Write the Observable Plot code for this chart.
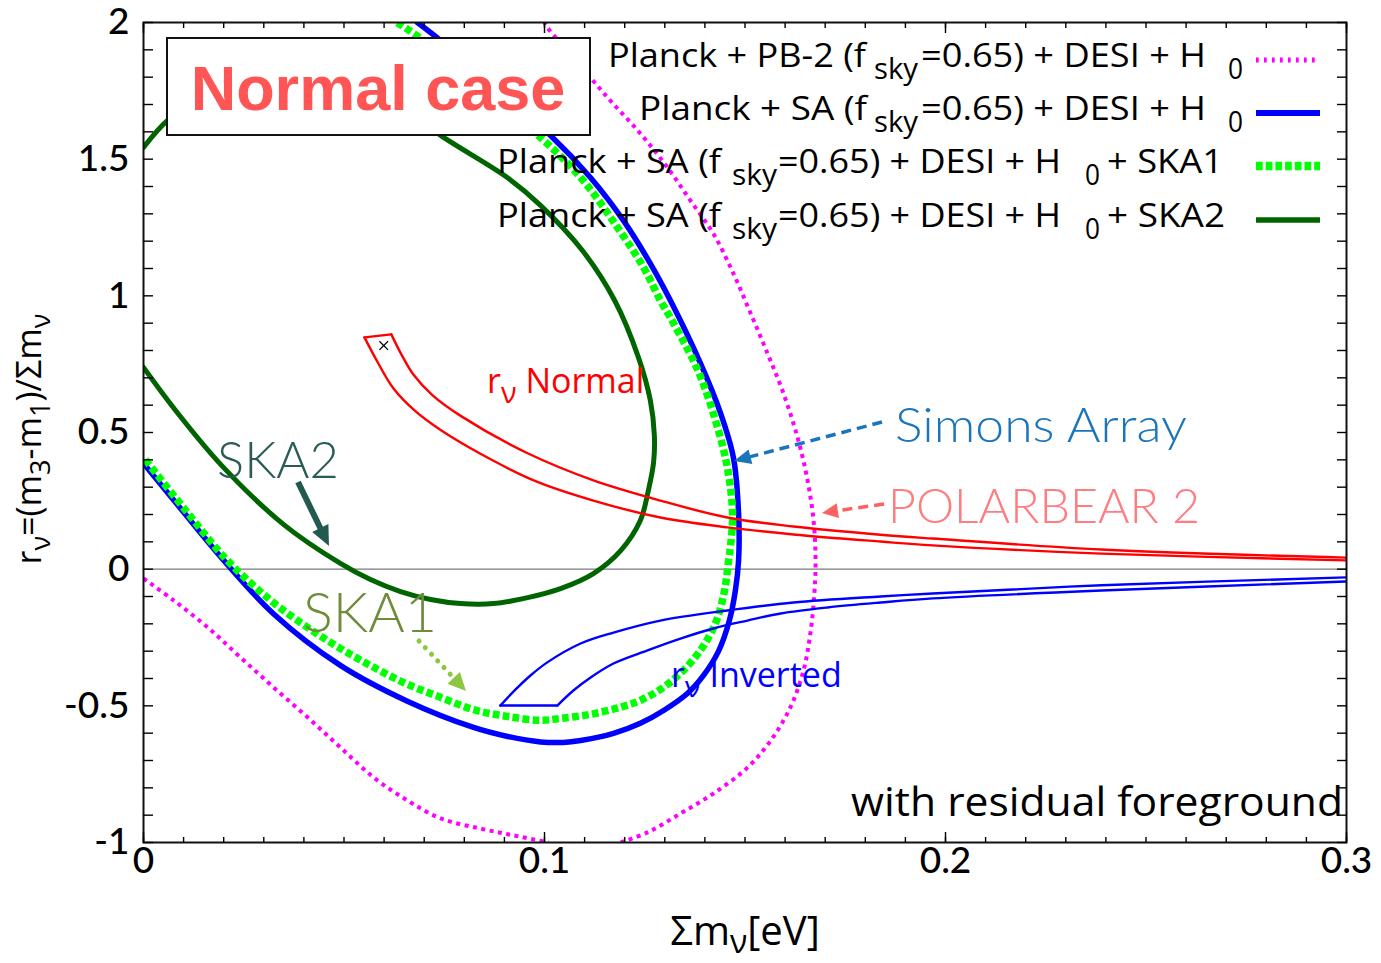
<!DOCTYPE html>
<html><head><meta charset="utf-8">
<script src="https://cdn.jsdelivr.net/npm/d3@7"></script>
<script src="https://cdn.jsdelivr.net/npm/@observablehq/plot@0.6"></script>
<style>
html,body{margin:0;padding:0;background:#fff;}
svg text{white-space:pre;}
</style>
</head><body><div id="chart"></div>
<script>
// ---------- axis ticks ----------
const X_MAJOR = [0, 0.1, 0.2, 0.3];
const X_TICK_LABELS = ["0", "0.1", "0.2", "0.3"];
const X_MINOR = d3.range(0, 31).map(i => i / 100);
const Y_MAJOR = [-1, -0.5, 0, 0.5, 1, 1.5, 2];
const Y_TICK_LABELS = ["-1", "-0.5", "0", "0.5", "1", "1.5", "2"];
const Y_MINOR = d3.range(-10, 21).map(i => i / 10);

// ---------- Planck + PB-2 (magenta dotted), two visible pieces ----------
const PB2_LOW_X = [0.0, 0.0075, 0.016, 0.0242, 0.0324, 0.0409, 0.0491, 0.0574, 0.0658, 0.0741, 0.084, 0.0923, 0.101];
const PB2_LOW_Y = [-0.034, -0.114, -0.213, -0.323, -0.432, -0.542, -0.652, -0.762, -0.846, -0.912, -0.949, -0.974, -1.0];
const PB2_UP_X = [0.119, 0.1257, 0.1339, 0.1421, 0.1506, 0.1564, 0.1613, 0.1646, 0.1663, 0.1673, 0.1676, 0.1671, 0.1656, 0.1631, 0.1596, 0.1556, 0.1514, 0.1471, 0.1421, 0.1364, 0.1307, 0.1239, 0.1157, 0.1072, 0.1007, 0.1];
const PB2_UP_Y = [-1.0, -0.963, -0.894, -0.821, -0.726, -0.627, -0.506, -0.37, -0.235, -0.089, 0.032, 0.178, 0.325, 0.482, 0.643, 0.79, 0.936, 1.082, 1.228, 1.348, 1.469, 1.594, 1.726, 1.872, 1.982, 2.0];

// ---------- Planck + SA (blue thick) ----------
const SA_X = [0.0683, 0.0741, 0.0878, 0.1015, 0.1115, 0.1197, 0.1264, 0.1314, 0.1389, 0.1439, 0.1471, 0.1484, 0.1484, 0.1476, 0.1461, 0.1434, 0.1397, 0.1357, 0.1297, 0.1239, 0.1172, 0.1090, 0.1047, 0.0990, 0.0908, 0.0823, 0.0658, 0.0491, 0.0324, 0.0192, 0.0092, 0.0];
const SA_Y = [2.0, 1.934, 1.759, 1.587, 1.432, 1.275, 1.118, 0.983, 0.753, 0.571, 0.409, 0.204, 0.032, -0.078, -0.188, -0.300, -0.388, -0.454, -0.517, -0.564, -0.601, -0.627, -0.634, -0.632, -0.612, -0.579, -0.483, -0.352, -0.163, 0.046, 0.223, 0.387];

// ---------- + SKA1 (green dotted) ----------
const SKA1_X = [0.0633, 0.0698, 0.0848, 0.0998, 0.1097, 0.1182, 0.1247, 0.1289, 0.1322, 0.1382, 0.1426, 0.1456, 0.1469, 0.1464, 0.1459, 0.1449, 0.1429, 0.1397, 0.1352, 0.1297, 0.1239, 0.1190, 0.1115, 0.1040, 0.0990, 0.0908, 0.0823, 0.0741, 0.0658, 0.0574, 0.0491, 0.0409, 0.0317, 0.0209, 0.0105, 0.0];
const SKA1_Y = [2.0, 1.934, 1.751, 1.569, 1.421, 1.250, 1.104, 0.983, 0.899, 0.729, 0.546, 0.372, 0.204, 0.087, 0.032, -0.078, -0.188, -0.279, -0.362, -0.432, -0.480, -0.505, -0.531, -0.546, -0.553, -0.539, -0.514, -0.469, -0.421, -0.359, -0.290, -0.213, -0.114, 0.032, 0.215, 0.409];

// ---------- + SKA2 (dark green) ----------
const SKA2_X = [0.0, 0.006, 0.0142, 0.0267, 0.0392, 0.0516, 0.0641, 0.0741, 0.0908, 0.099, 0.1095, 0.1175, 0.1234, 0.1264, 0.1274, 0.1272, 0.1259, 0.1239, 0.119, 0.1122, 0.104, 0.0958, 0.0873, 0.0791, 0.0716, 0.0641, 0.0566, 0.0491, 0.0349, 0.0197, 0.0082, 0.0];
const SKA2_Y = [1.543, 1.642, 1.722, 1.781, 1.803, 1.781, 1.697, 1.587, 1.432, 1.331, 1.165, 0.983, 0.776, 0.617, 0.489, 0.39, 0.288, 0.178, 0.068, -0.016, -0.071, -0.104, -0.126, -0.126, -0.111, -0.082, -0.038, 0.021, 0.164, 0.376, 0.577, 0.738];

// ---------- r_nu Normal band (red) ----------
const NORM_UP_X = [0.0618, 0.0643, 0.0673, 0.0721, 0.0793, 0.0958, 0.1122, 0.1289, 0.1456, 0.1621, 0.1838, 0.1968, 0.2389, 0.3];
const NORM_UP_Y = [0.859, 0.786, 0.712, 0.636, 0.559, 0.424, 0.325, 0.251, 0.189, 0.156, 0.126, 0.112, 0.072, 0.042];
const NORM_LO_X = [0.0551, 0.0584, 0.0623, 0.0678, 0.0741, 0.0838, 0.0973, 0.1122, 0.1289, 0.1456, 0.1621, 0.1838, 0.1968, 0.2389, 0.3];
const NORM_LO_Y = [0.848, 0.757, 0.662, 0.578, 0.509, 0.424, 0.325, 0.251, 0.189, 0.153, 0.127, 0.101, 0.087, 0.057, 0.032];

// ---------- r_nu Inverted band (blue thin) ----------
const INV_UP_X = [0.089, 0.0928, 0.0965, 0.1007, 0.109, 0.1172, 0.1289, 0.1456, 0.1621, 0.1838, 0.1968, 0.2389, 0.3];
const INV_UP_Y = [-0.499, -0.44, -0.389, -0.341, -0.272, -0.232, -0.188, -0.151, -0.122, -0.1, -0.089, -0.059, -0.03];
const INV_LO_X = [0.1032, 0.1072, 0.1115, 0.1172, 0.1257, 0.1339, 0.1421, 0.1506, 0.1589, 0.1706, 0.1838, 0.1968, 0.2389, 0.3];
const INV_LO_Y = [-0.499, -0.444, -0.396, -0.345, -0.297, -0.254, -0.217, -0.188, -0.162, -0.14, -0.122, -0.107, -0.078, -0.045];

// fiducial point
const FID_X = [0.0599];
const FID_Y = [0.818];

const pts = (xs, ys) => xs.map((x, i) => ({x, y: ys[i]}));
const cap = (xa, ya, xb, yb) => [{x: xa, y: ya}, {x: xb, y: yb}];
const lineOpts = (o) => Object.assign({x: "x", y: "y", curve: "catmull-rom", clip: true, strokeLinejoin: "round"}, o);
const tickOpts = (o) => Object.assign({tickFormat: () => "", label: null, strokeWidth: 1.4}, o);

const plot = Plot.plot({
  width: 1381, height: 963,
  marginLeft: 143, marginRight: 35, marginTop: 22, marginBottom: 121,
  x: {domain: [0, 0.3]},
  y: {domain: [-1, 2]},
  style: {fontFamily: "Lato, 'Open Sans', sans-serif", background: "#fff", overflow: "visible", color: "#000"},
  marks: [
    Plot.ruleY([0], {stroke: "#7a7a7a", strokeWidth: 1.2}),
    Plot.line(pts(PB2_LOW_X, PB2_LOW_Y), lineOpts({stroke: "#ff00ff", strokeWidth: 4, strokeDasharray: "4,4.5", strokeLinecap: "butt"})),
    Plot.line(pts(PB2_UP_X, PB2_UP_Y), lineOpts({stroke: "#ff00ff", strokeWidth: 4, strokeDasharray: "4,4.5", strokeLinecap: "butt"})),
    Plot.line(pts(SKA2_X, SKA2_Y), lineOpts({stroke: "#006400", strokeWidth: 5})),
    Plot.line(pts(SA_X, SA_Y), lineOpts({stroke: "#0000ff", strokeWidth: 5.5})),
    Plot.line(pts(SKA1_X, SKA1_Y), lineOpts({stroke: "#00ff00", strokeWidth: 7.5, strokeDasharray: "6.7,3.3", strokeLinecap: "butt"})),
    Plot.line(pts(NORM_UP_X, NORM_UP_Y), lineOpts({stroke: "#ff0000", strokeWidth: 2.4})),
    Plot.line(pts(NORM_LO_X, NORM_LO_Y), lineOpts({stroke: "#ff0000", strokeWidth: 2.4})),
    Plot.line(cap(NORM_LO_X[0], NORM_LO_Y[0], NORM_UP_X[0], NORM_UP_Y[0]), lineOpts({stroke: "#ff0000", strokeWidth: 2.4, curve: "linear"})),
    Plot.line(pts(INV_UP_X, INV_UP_Y), lineOpts({stroke: "#0000ff", strokeWidth: 2.4})),
    Plot.line(pts(INV_LO_X, INV_LO_Y), lineOpts({stroke: "#0000ff", strokeWidth: 2.4})),
    Plot.line(cap(INV_UP_X[0], INV_UP_Y[0], INV_LO_X[0], INV_LO_Y[0]), lineOpts({stroke: "#0000ff", strokeWidth: 2.4, curve: "linear"})),
    Plot.dot(pts(FID_X, FID_Y), {x: "x", y: "y", symbol: "times", r: 4, stroke: "#000", strokeWidth: 1.3}),
    Plot.frame({stroke: "#111", strokeWidth: 2}),
    // inward ticks (gnuplot style, mirrored)
    Plot.axisX(tickOpts({ticks: X_MINOR, anchor: "bottom", tickSize: -5})),
    Plot.axisX(tickOpts({ticks: X_MINOR, anchor: "top", tickSize: -5})),
    Plot.axisX(tickOpts({ticks: X_MAJOR, anchor: "bottom", tickSize: -10})),
    Plot.axisX(tickOpts({ticks: X_MAJOR, anchor: "top", tickSize: -10})),
    Plot.axisY(tickOpts({ticks: Y_MINOR, anchor: "left", tickSize: -10})),
    Plot.axisY(tickOpts({ticks: Y_MINOR, anchor: "right", tickSize: -10})),
    Plot.axisX({ticks: X_MAJOR, anchor: "bottom", tickSize: 0, tickPadding: 4, fontSize: 37, fontWeight: 500, label: null,
      tickFormat: d => X_TICK_LABELS[X_MAJOR.indexOf(d)]}),
    Plot.axisY({ticks: Y_MAJOR, anchor: "left", tickSize: 0, tickPadding: 14, fontSize: 37, fontWeight: 500, label: null,
      tickFormat: d => Y_TICK_LABELS[Y_MAJOR.indexOf(d)]})
  ]
});
document.getElementById("chart").appendChild(plot);

// ---------- overlay annotations ----------
const svg = d3.select(plot);
const OS = "'Open Sans', 'DejaVu Sans', sans-serif";
const GEO = "Lato, 'Open Sans', sans-serif";

function rich(parent, x, y, parts, o) {
  const t = parent.append("text").attr("x", x).attr("y", y)
    .attr("font-family", o.family || OS).attr("font-size", o.size)
    .attr("fill", o.fill || "#000").attr("text-anchor", o.anchor || "start");
  if (o.transform) t.attr("transform", o.transform);
  const shift = o.shift || Math.round(o.size * 0.38);
  let down = false;
  parts.forEach(([s, sub]) => {
    const ts = t.append("tspan").text(s);
    if (sub) ts.attr("font-size", o.size * (o.subScale || 0.85));
    if (sub && !down) { ts.attr("dy", shift); down = true; }
    else if (!sub && down) { ts.attr("dy", -shift); down = false; }
  });
  return t;
}

// a single stretched text run
function run(x, y, s, size, len, o = {}) {
  return svg.append("text").attr("x", x).attr("y", y).attr("text-anchor", "start")
    .attr("font-family", o.family || OS).attr("font-size", size).attr("font-weight", o.weight || null)
    .attr("fill", o.fill || "#000")
    .attr("textLength", len).attr("lengthAdjust", "spacingAndGlyphs").text(s);
}

function arrow(x1, y1, x2, y2, color, width, dash, hl, hw, lcap) {
  const dx = x2 - x1, dy = y2 - y1, L = Math.hypot(dx, dy);
  const ux = dx / L, uy = dy / L;
  const bx = x2 - ux * hl, by = y2 - uy * hl;
  svg.append("line").attr("x1", x1).attr("y1", y1).attr("x2", bx + ux * 2).attr("y2", by + uy * 2)
    .attr("stroke", color).attr("stroke-width", width)
    .attr("stroke-dasharray", dash || null).attr("stroke-linecap", lcap || "butt");
  const px = -uy, py = ux;
  svg.append("path")
    .attr("d", `M${x2},${y2}L${bx + px * hw / 2},${by + py * hw / 2}L${bx - px * hw / 2},${by - py * hw / 2}Z`)
    .attr("fill", color);
}

// Normal case box
svg.append("rect").attr("x", 167).attr("y", 38).attr("width", 423).attr("height", 97)
  .attr("fill", "#fff").attr("stroke", "#111").attr("stroke-width", 2);
svg.append("text").attr("x", 378).attr("y", 110).attr("text-anchor", "middle")
  .attr("font-family", "'Liberation Sans', Arial, sans-serif").attr("font-weight", "bold")
  .attr("font-size", 63).attr("fill", "#ff5555").text("Normal case");

// Legend: [text, x, width, subscript?]
const LEG_FS = 32;
const legend = [
  {y: 67, ly: 60, stroke: "#ff00ff", w: 5, dash: "2.7,5.3",
   runs: [["Planck + PB-2 (f", 608, 258, 0], ["sky", 874, 44, 1], ["=0.65) + DESI + H", 921, 285, 0], ["0", 1228, 15, 1]]},
  {y: 120, ly: 113, stroke: "#0000ff", w: 6, dash: null,
   runs: [["Planck + SA (f", 639, 228, 0], ["sky", 874, 44, 1], ["=0.65) + DESI + H", 921, 285, 0], ["0", 1228, 15, 1]]},
  {y: 173, ly: 166, stroke: "#00ff00", w: 8.5, dash: "6.7,3",
   runs: [["Planck + SA (f", 497, 224, 0], ["sky", 732, 45, 1], ["=0.65) + DESI + H", 778, 283, 0], ["0", 1085, 15, 1], ["+ SKA1", 1107, 116, 0]]},
  {y: 227, ly: 220, stroke: "#006400", w: 5.3, dash: null,
   runs: [["Planck + SA (f", 497, 224, 0], ["sky", 732, 45, 1], ["=0.65) + DESI + H", 778, 283, 0], ["0", 1085, 15, 1], ["+ SKA2", 1107, 118, 0]]}
];
legend.forEach(r => {
  r.runs.forEach(([s, x, len, sub]) => run(x, r.y + (sub ? 12 : 0), s, sub ? LEG_FS * 0.92 : LEG_FS, len));
  svg.append("line").attr("x1", 1256).attr("x2", 1320).attr("y1", r.ly).attr("y2", r.ly)
    .attr("stroke", r.stroke).attr("stroke-width", r.w).attr("stroke-dasharray", r.dash);
});

// Axis labels
rich(svg, 745, 945, [["Σm", 0], ["ν", 1], ["[eV]", 0]], {size: 40, anchor: "middle", shift: 8, subScale: 0.8});
rich(svg, 0, 0, [["r", 0], ["ν", 1], ["=(m", 0], ["3", 1], ["-m", 0], ["1", 1], [")/Σm", 0], ["ν", 1]],
  {size: 34, anchor: "middle", shift: 9, subScale: 0.8, transform: "translate(41,439) rotate(-90)"});

// Band labels
rich(svg, 487, 393, [["r", 0], ["ν", 1], [" Normal", 0]], {size: 34, fill: "#ff0000", shift: 10, subScale: 0.85});
rich(svg, 671, 687, [["r", 0], ["ν", 1], [" Inverted", 0]], {size: 34, fill: "#0000ff", shift: 10, subScale: 0.85});

// with residual foreground
run(851, 816, "with residual foreground", 41, 492);

// Experiment annotations
run(217, 478, "SKA2", 51, 122, {family: GEO, weight: 300, fill: "#2a5c55"});
run(303, 632, "SKA1", 55, 134, {family: GEO, weight: 300, fill: "#6f8c3a"});
run(895, 442, "Simons Array", 48, 292, {family: GEO, weight: 300, fill: "#1b75bb"});
run(888, 523, "POLARBEAR 2", 48, 312, {family: GEO, weight: 300, fill: "#ff7c80"});

arrow(882, 422, 734, 461, "#1b75bb", 3.5, "10,6", 17, 15);
arrow(884, 504, 822, 513, "#ff6060", 3.5, "10,6", 16, 15);
arrow(298, 482, 329, 546, "#235a50", 6, null, 20, 18);
arrow(419, 641, 466, 691, "#8dc63f", 5, "0.1,9", 18, 17, "round");
</script>
</body></html>
